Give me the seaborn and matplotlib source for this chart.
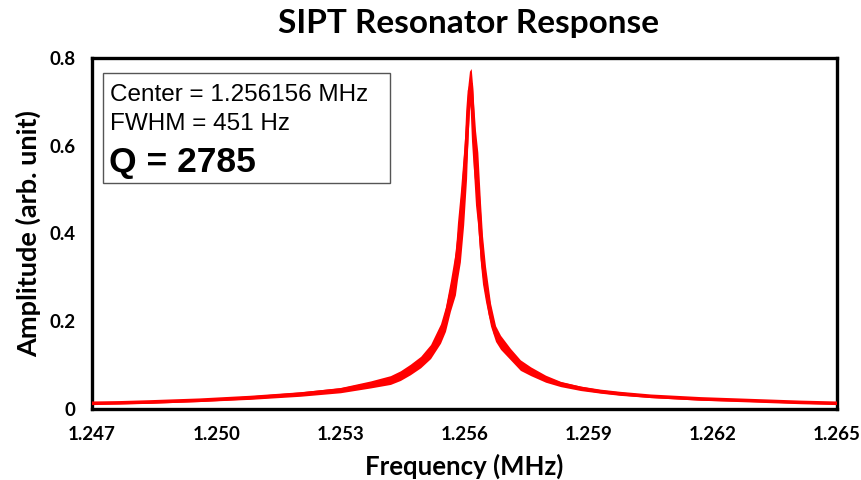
import matplotlib
matplotlib.use("Agg")
import matplotlib.pyplot as plt
from matplotlib.patches import Rectangle
import seaborn as sns
import pandas as pd

# Measured resonator trace: frequency (MHz), mean amplitude and noise half-band
freq_mhz = [1.24700, 1.24768, 1.24840, 1.24961, 1.25082, 1.25203, 1.25300,
            1.25373, 1.25421, 1.25445, 1.25469, 1.25494, 1.25518, 1.25542,
            1.25554, 1.25566, 1.25578, 1.25583, 1.25590, 1.25598, 1.25605,
            1.256085, 1.25612, 1.256162, 1.256194, 1.256225, 1.256266,
            1.256322, 1.256387, 1.256435, 1.256508, 1.256629, 1.25675,
            1.25687, 1.25711, 1.25735, 1.25760, 1.25796, 1.25832, 1.25881,
            1.25929, 1.25977, 1.26050, 1.26171, 1.26292, 1.26413, 1.26500]
amplitude = [0.013, 0.014, 0.016, 0.020, 0.026, 0.034, 0.043,
             0.056, 0.066, 0.076, 0.090, 0.107, 0.131, 0.172,
             0.205, 0.258, 0.310, 0.360, 0.415, 0.505, 0.605,
             0.680, 0.725, 0.740, 0.680, 0.610, 0.550,
             0.500, 0.400, 0.340, 0.285, 0.215, 0.172,
             0.152, 0.125, 0.100, 0.086, 0.069, 0.057, 0.047,
             0.040, 0.035, 0.029, 0.023, 0.019, 0.015, 0.013]
noise = [0.002, 0.002, 0.003, 0.003, 0.004, 0.005, 0.006,
         0.008, 0.010, 0.011, 0.012, 0.013, 0.016, 0.022,
         0.028, 0.035, 0.050, 0.065, 0.080, 0.085, 0.080,
         0.060, 0.045, 0.036, 0.060, 0.080, 0.085,
         0.085, 0.070, 0.055, 0.040, 0.026, 0.018,
         0.016, 0.013, 0.012, 0.010, 0.008, 0.006, 0.005,
         0.004, 0.004, 0.003, 0.003, 0.002, 0.002, 0.002]

x_ticks = [1.247, 1.250, 1.253, 1.256, 1.259, 1.262, 1.265]
y_ticks = [0, 0.2, 0.4, 0.6, 0.8]
y_tick_labels = ["0", "0.2", "0.4", "0.6", "0.8"]

fit_lines = ["Center = 1.256156 MHz", "FWHM = 451 Hz"]
q_line = "Q = 2785"

df = pd.DataFrame({"freq": freq_mhz, "amp": amplitude, "noise": noise})
df["low"] = df["amp"] - df["noise"]
df["high"] = df["amp"] + df["noise"]

sns.set_theme(style="white")
plt.rcParams["font.family"] = ["Lato", "DejaVu Sans"]
plt.rcParams.update({"text.color": "black", "axes.labelcolor": "black",
                     "xtick.color": "black", "ytick.color": "black"})

W, H = 862, 480
fig = plt.figure(figsize=(W / 100, H / 100), dpi=100)
ax = fig.add_axes([92 / W, 1 - 409 / H, (837 - 92) / W, (409 - 58) / H])

ax.fill_between(df["freq"], df["low"], df["high"], color="#ff0000",
                linewidth=0, zorder=2)
sns.lineplot(data=df, x="freq", y="amp", ax=ax, color="#ff0000",
             linewidth=2.6, zorder=3)

ax.set_xlim(x_ticks[0], x_ticks[-1])
ax.set_ylim(0, 0.8)
ax.set_xticks(x_ticks)
ax.set_xticklabels([f"{t:.3f}" for t in x_ticks])
ax.set_yticks(y_ticks)
ax.set_yticklabels(y_tick_labels)
ax.tick_params(axis="both", direction="out", length=5, width=1.2,
               color="black", labelsize=13.5, pad=7)
for lab in ax.get_xticklabels() + ax.get_yticklabels():
    lab.set_fontweight("bold")
for sp in ax.spines.values():
    sp.set_visible(True)
    sp.set_color("black")
    sp.set_linewidth(2.4)

ax.set_xlabel("Frequency (MHz)", fontsize=18.5, fontweight="bold", labelpad=8)
ax.set_ylabel("Amplitude (arb. unit)", fontsize=19.5, fontweight="bold",
              labelpad=6)
fig.text(469 / W, 1 - 24 / H, "SIPT Resonator Response", ha="center",
         va="center", fontsize=24, fontweight="bold")

# Fit summary box
box = Rectangle((103 / W, 1 - 183 / H), (390 - 103) / W, (183 - 73) / H,
                transform=fig.transFigure, facecolor="white",
                edgecolor="#555555", linewidth=1.0, zorder=5)
fig.add_artist(box)
fig.text(110 / W, 1 - 101 / H, fit_lines[0], fontsize=17.5,
         family="Liberation Sans", va="baseline", zorder=6)
fig.text(110 / W, 1 - 130 / H, fit_lines[1], fontsize=17.5,
         family="Liberation Sans", va="baseline", zorder=6)
fig.text(109 / W, 1 - 172 / H, q_line, fontsize=25.5, fontweight="bold",
         family="Liberation Sans", va="baseline", zorder=6)

fig.savefig("out.png", dpi=100, facecolor="white")
